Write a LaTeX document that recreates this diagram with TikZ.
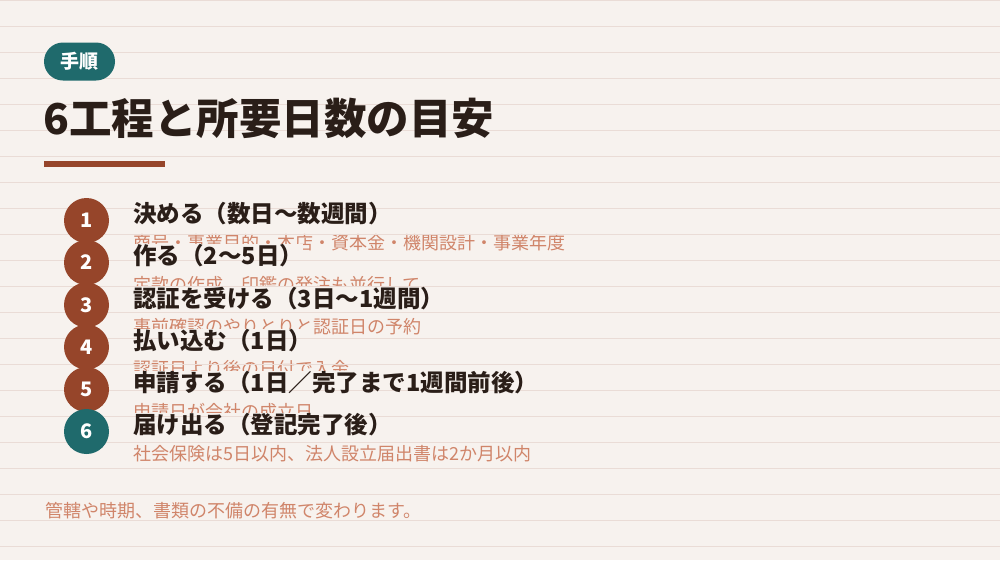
\documentclass[tikz,border=0pt]{standalone}
\usepackage{fontspec}
\setmainfont{Noto Sans CJK JP}
\usetikzlibrary{positioning}

\definecolor{paper}{HTML}{F7F2EE}
\definecolor{ruleline}{HTML}{EADCD6}
\definecolor{rust}{HTML}{96452A}
\definecolor{deepteal}{HTML}{1F6A6C}
\definecolor{ink}{HTML}{2A1E18}
\definecolor{salmon}{HTML}{D0856A}

\pgfdeclarelayer{background}
\pgfdeclarelayer{front}
\pgfsetlayers{background,main,front}

\begin{document}
\begin{tikzpicture}[
    x=1pt, y=-1pt,
    stepnum/.style={
        circle,
        fill=#1,
        minimum size=45pt,
        inner sep=0pt,
        text=white,
        font=\bfseries\fontsize{20}{24}\selectfont
    },
    steptitle/.style={
        inner sep=0pt,
        text=ink,
        text height=20.7pt,
        text depth=2.8pt,
        font=\bfseries\fontsize{23.5}{27}\selectfont
    },
    stepnote/.style={
        inner sep=0pt,
        text=salmon,
        text height=15.8pt,
        text depth=2.2pt,
        font=\fontsize{18}{22}\selectfont
    },
    rule/.style={ruleline, line width=1pt}
]
    \useasboundingbox (0,0) rectangle (1000,560);
    \begin{pgfonlayer}{background}
        \fill[paper] (0,0) rectangle (1000,560);
    \end{pgfonlayer}

    \begin{pgfonlayer}{front}
        % numbered circles
        \node[stepnum=rust] (n1) at (86.5,220.5) {1};
        \node[stepnum=rust] (n2) at (86.5,262.5) {2};
        \node[stepnum=rust] (n3) at (86.5,305) {3};
        \node[stepnum=rust] (n4) at (86.5,347) {4};
        \node[stepnum=rust] (n5) at (86.5,389.5) {5};
        \node[stepnum=deepteal] (n6) at (86.5,431.5) {6};

        % step titles
        \node[steptitle, right=24pt of n1, yshift=6.5pt] (t1) {決める（数日〜数週間）};
        \node[steptitle, right=24pt of n2, yshift=6.5pt] (t2) {作る（2〜5日）};
        \node[steptitle, right=24pt of n3, yshift=6.5pt] (t3) {認証を受ける（3日〜1週間）};
        \node[steptitle, right=24pt of n4, yshift=6.5pt] (t4) {払い込む（1日）};
        \node[steptitle, right=24pt of n5, yshift=6.5pt] (t5) {申請する（1日／完了まで1週間前後）};
        \node[steptitle, right=24pt of n6, yshift=6.5pt] (t6) {届け出る（登記完了後）};
    \end{pgfonlayer}

    % notes under the titles
    \begin{pgfonlayer}{background}
        \node[stepnote, below right=7.5pt and 0pt of t1.south west] (d1) {商号・事業目的・本店・資本金・機関設計・事業年度};
        \node[stepnote, below right=7.5pt and 0pt of t2.south west] (d2) {定款の作成、印鑑の発注も並行して};
        \node[stepnote, below right=7.5pt and 0pt of t3.south west] (d3) {事前確認のやりとりと認証日の予約};
        \node[stepnote, below right=7.5pt and 0pt of t4.south west] (d4) {認証日より後の日付で入金};
        \node[stepnote, below right=7.5pt and 0pt of t5.south west] (d5) {申請日が会社の成立日};
        \node[stepnote, below right=7.5pt and 0pt of t6.south west] (d6) {社会保険は5日以内、法人設立届出書は2か月以内};
    \end{pgfonlayer}

    % title boxes hide the note above them
    \foreach \t in {t2,t3,t4,t5,t6}
        \fill[paper] (\t.north west) rectangle (\t.south east);

    % ruled paper
    \foreach \k in {0,...,21}
        \draw[rule] (0,26*\k) -- (1000,26*\k);

    % heading
    \begin{pgfonlayer}{front}
        \node[rectangle, rounded corners=19pt, fill=deepteal, minimum width=71pt,
              minimum height=38pt, inner sep=0pt, text=white, text height=16.7pt,
              text depth=2.3pt, font=\bfseries\fontsize{19}{22}\selectfont]
              (tag) at (79.5,61.5) {手順};
        \node[anchor=west, inner sep=0pt, text=ink, text height=37.4pt, text depth=5.1pt,
              font=\bfseries\fontsize{42.5}{48}\selectfont]
              (heading) at (43,118) {6工程と所要日数の目安};
        \fill[rust] (44,161) rectangle (165,167);
        \node[anchor=west, inner sep=0pt, text=salmon, text height=15.8pt, text depth=2.2pt,
              font=\fontsize{18}{22}\selectfont]
              (footnote) at (45,511) {管轄や時期、書類の不備の有無で変わります。};
    \end{pgfonlayer}
\end{tikzpicture}
\end{document}
